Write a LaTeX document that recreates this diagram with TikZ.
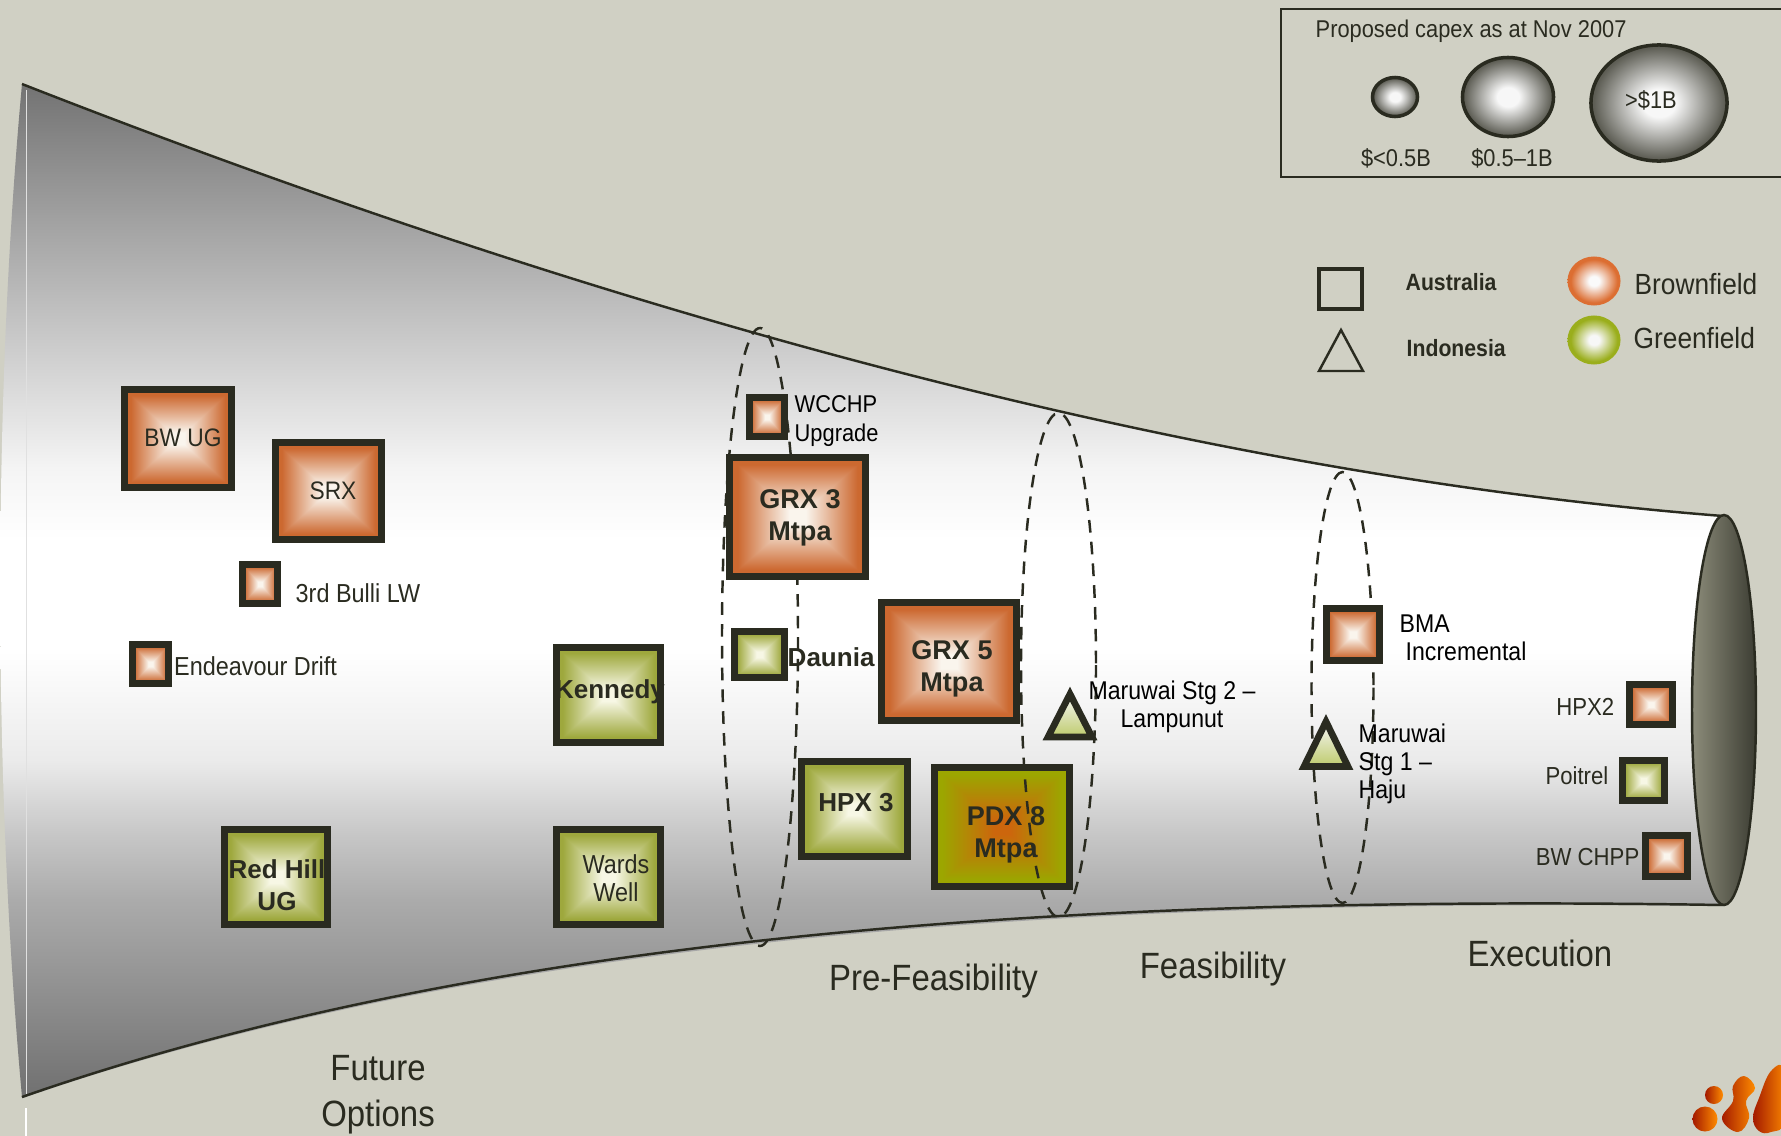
\documentclass[tikz,border=0pt]{standalone}
\usepackage{fontspec}
\usetikzlibrary{shapes.geometric}
\setmainfont{Liberation Sans}
\newfontfamily\narrowfont[FakeStretch=0.9]{Liberation Sans}
\definecolor{paper}{HTML}{D0D0C4}
\definecolor{inkdark}{HTML}{2A2B20}
\definecolor{brownedge}{HTML}{DC6E32}
\definecolor{greenedge}{HTML}{9AAE1C}
\definecolor{balledge}{HTML}{5E5E55}
% funnel gradient
\pgfdeclareverticalshading{funnelshade}{100bp}{color(0bp)=(black!56);color(25bp)=(black!56);color(34.7bp)=(black!33);color(38bp)=(black!22);color(41.6bp)=(black!8);color(47bp)=(white);color(52.5bp)=(white);color(55.9bp)=(black!4);color(60.9bp)=(black!17);color(68bp)=(black!36);color(75bp)=(black!55);color(100bp)=(black!55)}
% round glows for the legend
\pgfdeclareradialshading{greyglow}{\pgfpointorigin}{color(0bp)=(black!3);color(6bp)=(black!3);color(24bp)=(balledge);color(50bp)=(balledge)}
\pgfdeclareradialshading{brownball}{\pgfpointorigin}{color(0bp)=(black!2);color(5bp)=(black!2);color(22bp)=(brownedge);color(50bp)=(brownedge)}
\pgfdeclareradialshading{greenball}{\pgfpointorigin}{color(0bp)=(black!3);color(5bp)=(black!3);color(22bp)=(greenedge);color(50bp)=(greenedge)}
% square glow: centre rgb, then edge rgb
\newcommand{\declareglow}[7]{%
  \pgfdeclarefunctionalshading{#1}{\pgfpoint{-50bp}{-50bp}}{\pgfpoint{50bp}{50bp}}{}{abs exch abs 2 copy lt {exch} if pop 25 div .12 sub .76 div dup 0 lt {pop 0} if dup 1 gt {pop 1} if dup #5 #2 sub mul #2 add exch dup #6 #3 sub mul #3 add exch #7 #4 sub mul #4 add}}
\declareglow{brownglow}{.98}{.96}{.93}{.80}{.41}{.19}
\declareglow{greenglow}{.97}{.97}{.90}{.62}{.66}{.24}
\declareglow{pdxglow}{.80}{.40}{.05}{.61}{.65}{0}
\tikzset{
  boxsize/.style 2 args={minimum width={(#1-6.7)*0.01cm},minimum height={(#2-6.7)*0.01cm}},
  projbox/.style={draw=inkdark,line width=1.9pt,inner sep=0pt,outer sep=0pt,shape=rectangle},
  brownbox/.style={projbox,shading=brownglow},
  greenbox/.style={projbox,shading=greenglow},
  capexball/.style={shape=ellipse,draw=inkdark,line width=1pt,inner sep=0pt,shading=greyglow},
  plainball/.style={shape=ellipse,inner sep=0pt},
  phase/.style={draw=inkdark,line width=0.7pt,dash pattern=on 3.6pt off 2.6pt},
  lab/.style={text=inkdark,inner sep=0pt,font=\narrowfont\fontsize{7.4}{8}\selectfont},
  sidelab/.style={lab,anchor=east,font=\narrowfont\fontsize{7}{8}\selectfont},
  blabel/.style={text=inkdark,inner sep=0pt,align=center,font=\bfseries\fontsize{7.4}{9.1}\selectfont},
  legendtext/.style={text=inkdark,inner sep=0pt,font=\narrowfont\fontsize{6.9}{8}\selectfont},
  legendbold/.style={text=inkdark,inner sep=0pt,font=\narrowfont\bfseries\fontsize{6.7}{8}\selectfont},
  legendbig/.style={text=inkdark,inner sep=0pt,font=\narrowfont\fontsize{8.3}{9}\selectfont},
  stage/.style={text=inkdark,inner sep=0pt,align=center,font=\narrowfont\fontsize{10.4}{13}\selectfont},
  tribox/.style={draw=inkdark,line width=1.9pt,top color=black!3,bottom color=greenedge!65!white},
  logoblob/.style={left color=red!55!black!80!orange,right color=orange!90!yellow},
}
\begin{document}
\begin{tikzpicture}[x=0.01cm,y=-0.01cm]
  \useasboundingbox (0,0) rectangle (1781,1136);
  \fill[paper] (0,0) rectangle (1781,1136);
  % funnel
  \coordinate (topL) at (22,84);
  \coordinate (topR) at (1723,516);
  \coordinate (botL) at (22,1097);
  \coordinate (botR) at (1723,905);
  \draw[black!35,line width=0.7pt,yshift=-0.02cm] (botL) .. controls (500,930) and (1100,895) .. (botR);
  \shade[shading=funnelshade] (topL) .. controls (622,319) and (1200,475) .. (topR)
    -- (botR) .. controls (1100,895) and (500,930) .. (botL)
    .. controls (-7,780) and (-7,400) .. (topL) -- cycle;
  \draw[black!12,line width=0.25pt] (26,90) -- (26,1094);
  \draw[white,line width=0.5pt] (26,1108) -- (26,1136);
  \draw[inkdark,line width=0.7pt] (topL) .. controls (622,319) and (1200,475) .. (topR);
  \draw[inkdark,line width=0.7pt] (botL) .. controls (500,930) and (1100,895) .. (botR);
  \definecolor{capleft}{HTML}{8C8C7A}
  \definecolor{capright}{HTML}{3C3D33}
  \shadedraw[draw=inkdark,line width=0.7pt,left color=capleft,right color=capright]
    (1724,710) ellipse [x radius=32,y radius=195];
  % phase rings (behind most boxes)
  \draw[phase] (760,637) ellipse [x radius=38,y radius=309];
  \draw[phase] (1342.5,687.5) ellipse [x radius=31,y radius=215.5];
  % future options
  \node[brownbox,boxsize={114}{105}] (bwug) at (178,438.5) {};
  \node[lab,font=\narrowfont\fontsize{7.2}{8}\selectfont] (bwuglab) at (183,438) {BW UG};
  \node[brownbox,boxsize={113}{104}] (srx) at (328.5,491) {};
  \node[lab,font=\narrowfont\fontsize{7.2}{8}\selectfont] (srxlab) at (333,491) {SRX};
  \node[brownbox,boxsize={42}{46}] (bulli) at (260,584) {};
  \node[lab,anchor=west] (bullilab) at (295,593) {3rd Bulli LW};
  \node[brownbox,boxsize={43}{46}] (endeavour) at (150.5,664) {};
  \node[lab,anchor=west] (endeavourlab) at (173.5,666) {Endeavour Drift};
  \node[greenbox,boxsize={110}{102}] (redhill) at (276,877) {};
  \node[blabel] (redhilllab) at (277,885.5) {Red Hill\\UG};
  \node[greenbox,boxsize={111}{102}] (kennedy) at (608.5,695) {};
  \node[blabel] (kennedylab) at (610,692) {Kennedy};
  \node[greenbox,boxsize={111}{102}] (wards) at (608.5,877) {};
  \node[lab,align=center] (wardslab) at (616,878.5) {Wards\\Well};
  % pre-feasibility
  \node[brownbox,boxsize={42}{46}] (wcchp) at (767,417) {};
  \node[lab,anchor=west,align=left,text=black,font=\narrowfont\fontsize{6.9}{8}\selectfont] (wcchplab) at (794,421) {WCCHP\\Upgrade};
  \node[brownbox,boxsize={143}{126}] (grxthree) at (797.5,517) {};
  \node[blabel,font=\bfseries\fontsize{7.7}{9.1}\selectfont] (grxthreelab) at (800,517.5) {GRX 3\\Mtpa};
  \node[greenbox,boxsize={57}{53}] (daunia) at (759.5,654.5) {};
  \node[blabel,anchor=west] (daunialab) at (787,657) {Daunia};
  \node[greenbox,boxsize={113}{102}] (hpxthree) at (854.5,809) {};
  \node[blabel] (hpxthreelab) at (856,803) {HPX 3};
  \node[projbox,shading=pdxglow,boxsize={142}{126}] (pdxeight) at (1002,827) {};
  \node[blabel,font=\bfseries\fontsize{7.7}{9.1}\selectfont] (pdxeightlab) at (1006,834.5) {PDX 8\\Mtpa};
  % feasibility
  \draw[phase] (1058.5,665) ellipse [x radius=37.5,y radius=252];
  \node[brownbox,boxsize={142}{125}] (grxfive) at (949,661.5) {};
  \node[blabel,font=\bfseries\fontsize{7.7}{9.1}\selectfont] (grxfivelab) at (952,668.5) {GRX 5\\Mtpa};
  \shadedraw[tribox] (1070,694) -- (1092,737) -- (1048,737) -- cycle;
  \node[lab,align=center,text=black,font=\narrowfont\fontsize{7.3}{8}\selectfont] (lampunutlab) at (1172,707) {Maruwai Stg 2 –\\Lampunut};
  % execution
  \node[brownbox,boxsize={60}{59}] (bma) at (1353,634.5) {};
  \node[lab,anchor=north west,align=left,text=black,font=\narrowfont\fontsize{7.3}{8}\selectfont] (bmalab) at (1399,614) {BMA\\\hspace*{0.06cm}Incremental};
  \shadedraw[tribox] (1326,721.6) -- (1348,766.5) -- (1304,766.5) -- cycle;
  \node[lab,anchor=west,align=left,text=black,font=\narrowfont\fontsize{7.3}{8}\selectfont] (stgonelab) at (1358,764) {Maruwai\\Stg 1 –\\Haju};
  \node[brownbox,boxsize={50}{47}] (hpxtwo) at (1651,704.5) {};
  \node[sidelab] (hpxtwolab) at (1615,707) {HPX2};
  \node[greenbox,boxsize={49}{47}] (poitrel) at (1643.5,780.5) {};
  \node[sidelab] (poitrellab) at (1609,776) {Poitrel};
  \node[brownbox,boxsize={49}{48}] (bwchpp) at (1666.5,856) {};
  \node[sidelab] (bwchpplab) at (1640,857) {BW CHPP};
  % stage names
  \node[stage] (futurelab) at (378,1095) {Future\\Options};
  \node[stage] (prefeaslab) at (933.5,981) {Pre-Feasibility};
  \node[stage] (feaslab) at (1213,969) {Feasibility};
  \node[stage] (execlab) at (1540,953) {Execution};
  % capex legend
  \draw[inkdark,line width=0.75pt] (1781,9) -- (1281,9) -- (1281,177) -- (1781,177);
  \node[legendtext,anchor=west] (capextitle) at (1315,31) {Proposed capex as at Nov 2007};
  \node[capexball,minimum width=0.45cm,minimum height=0.39cm] (capexsmall) at (1395,97) {};
  \node[capexball,minimum width=0.91cm,minimum height=0.79cm] (capexmid) at (1508,97) {};
  \node[capexball,minimum width=1.36cm,minimum height=1.16cm] (capexbig) at (1659,103) {};
  \node[legendtext] (capexsmalllab) at (1396,158) {\$<0.5B};
  \node[legendtext] (capexmidlab) at (1512,158) {\$0.5–1B};
  \node[legendtext] (capexbiglab) at (1651,100) {>\$1B};
  % country and type legend
  \node[draw=inkdark,line width=1.4pt,inner sep=0pt,minimum width=0.43cm,minimum height=0.40cm] (ausmark) at (1340.5,289) {};
  \node[legendbold,anchor=west] (auslab) at (1405,282) {Australia};
  \draw[inkdark,line width=0.7pt] (1341,330) -- (1363,371) -- (1319,371) -- cycle;
  \node[legendbold,anchor=west] (indolab) at (1406,348) {Indonesia};
  \node[plainball,shading=brownball,minimum width=0.53cm,minimum height=0.49cm] (brownmark) at (1594,281) {};
  \node[legendbig,anchor=west] (brownlab) at (1634,284) {Brownfield};
  \node[plainball,shading=greenball,minimum width=0.53cm,minimum height=0.49cm] (greenmark) at (1594,340) {};
  \node[legendbig,anchor=west] (greenlab) at (1633,338) {Greenfield};
  % logo
  \shade[logoblob] (1714,1095) circle (9);
  \shade[logoblob] (1705,1119) circle (12.5);
  \shade[logoblob] plot[smooth cycle,tension=0.7] coordinates
    {(1744,1076)(1755,1088)(1746,1101)(1749,1118)(1738,1132)(1722,1119)(1733,1101)(1733,1086)};
  \shade[logoblob] plot[smooth cycle,tension=0.7] coordinates
    {(1785,1070)(1771,1071)(1759,1098)(1753,1118)(1759,1131)(1771,1132)(1785,1121)};
\end{tikzpicture}
\end{document}
